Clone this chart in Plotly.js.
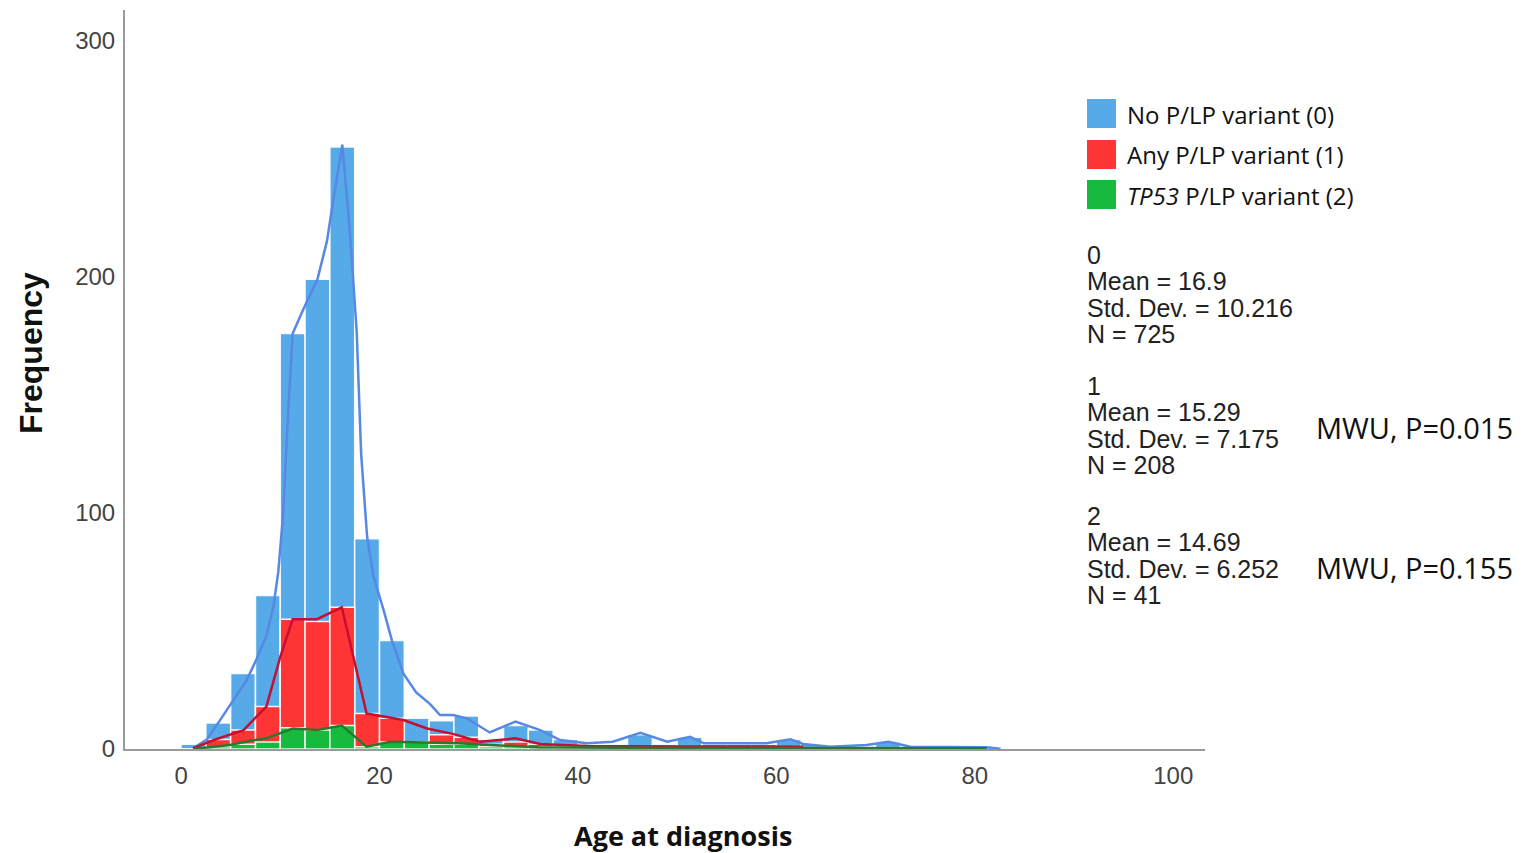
<!DOCTYPE html>
<html>
<head>
<meta charset="utf-8">
<script src="https://cdn.plot.ly/plotly-3.0.1.min.js"></script>
<style>html,body{margin:0;padding:0;background:#fff;}#chart{width:1523px;height:853px;}</style>
</head>
<body>
<div id="chart"></div>
<script>
// ---- Data ----
var binCenters = [1.25,3.75,6.25,8.75,11.25,13.75,16.25,18.75,21.25,23.75,26.25,28.75,31.25,33.75,36.25,38.75,41.25,43.75,46.25,48.75,51.25,53.75,56.25,58.75,61.25,63.75,66.25,68.75,71.25,73.75,76.25,78.75,81.25];
var noVariantBars  = [2,11,32,65,176,199,255,89,46,13,12,14,4,10,8,4,2,2,6,2,5,2,2,2,4,2,1,1,3,1,1,1,1];
var anyVariantBars = [0,4,8,18,55,54,60,15,13,3,6,5,2,3,2,1,1,1,1,1,1,1,1,1,1,0,0,0,0,0,0,0,0];
var tp53Bars       = [0,1,2,3,9,8,10,1,3,3,2,2,1,1,1,0,0,0,0,0,0,0,0,0,0,0,0,0,0,0,0,0,0];

var noVariantLineX = [1.2,2.6,3.9,5.3,6.6,7.6,8.6,9.3,9.8,10.3,10.7,11.25,12.3,13.75,14.7,15.4,16.25,17.0,17.7,18.15,18.75,19.4,20.4,21.25,22.4,23.7,25.1,26.1,27.4,28.8,31.1,33.7,36.2,38.2,40.9,43.5,46.3,49,51.3,52.7,54.7,59,61.4,62.7,65.4,69.1,71.3,73.5,81.2,82.6];
var noVariantLineY = [0.3,4,12,21,29,38,48,60,75,100,135,176,186,199,215,234,256,220,177,125,90,73,59,46,32,24,19,14.4,14.4,13,7,11.6,8,3.8,2.4,3.1,6.9,3.1,5.2,2.4,2.4,2.4,4.1,2.1,1,1.7,3.1,1,0.7,0];
var anyVariantLineX = [1.2,3.3,6.3,8.6,10,11.25,13.7,16.2,18.7,22.4,24.8,27.5,30.1,33.7,36.2,40.9,50,62.7];
var anyVariantLineY = [0.3,3.8,8,18,39,55,55,60,15,12.3,8.7,6.3,3.1,4.5,2.1,1.3,1.1,1.0];
var tp53LineX = [1.2,4.9,7,8.6,11.25,13.7,16.2,18.7,21.1,25.1,28,36,50,81.2];
var tp53LineY = [0,1.7,3.5,4.5,8.7,8,9.9,1,3.1,2.7,2.4,0.7,0.4,0.3];

var xTicks = [0,20,40,60,80,100];
var yTicks = [0,100,200,300];

var legendLabels = ['No P/LP variant (0)','Any P/LP variant (1)','<i>TP53</i> P/LP variant (2)'];
var statsBlocks = [
  ['0','Mean = 16.9','Std. Dev. = 10.216','N = 725'],
  ['1','Mean = 15.29','Std. Dev. = 7.175','N = 208'],
  ['2','Mean = 14.69','Std. Dev. = 6.252','N = 41']
];
var mwuLabels = ['MWU, P=0.015','MWU, P=0.155'];

// ---- Styles ----
var cBlue = 'rgb(86,170,231)', cRed = 'rgb(255,52,52)', cGreen = 'rgb(22,186,60)';
var lBlue = 'rgb(86,136,228)', lRed = 'rgb(196,16,52)', lGreen = 'rgb(40,120,45)';
var L = 125, R = 1205, T = 10, B = 749;
function px(x){ return (x - L) / (R - L); }
function py(y){ return (B - y) / (B - T); }

function barTrace(y, color){
  return {type:'bar', x:binCenters, y:y, width:2.5, marker:{color:color, line:{color:'rgba(255,255,255,0.9)', width:1.5}}, hoverinfo:'x+y', showlegend:false};
}
function lineTrace(x, y, color){
  return {type:'scatter', mode:'lines', x:x, y:y, line:{color:color, width:2.5}, showlegend:false, hoverinfo:'x+y'};
}
var traces = [
  barTrace(noVariantBars, cBlue),
  barTrace(anyVariantBars, cRed),
  barTrace(tp53Bars, cGreen),
  lineTrace(noVariantLineX, noVariantLineY, lBlue),
  lineTrace(anyVariantLineX, anyVariantLineY, lRed),
  lineTrace(tp53LineX, tp53LineY, lGreen)
];

var annotations = [];
var shapes = [];
var sansA = 'Liberation Sans, Arial, sans-serif';
var sansC = 'Open Sans, Noto Sans, sans-serif';

annotations.push({xref:'paper', yref:'paper', x:px(31), y:py(353), text:'<b>Frequency</b>', textangle:-90, showarrow:false, xanchor:'center', yanchor:'middle', font:{family:sansA, size:32, color:'#111'}});
annotations.push({xref:'paper', yref:'paper', x:px(683), y:py(835), text:'<b>Age at diagnosis</b>', showarrow:false, xanchor:'center', yanchor:'middle', font:{family:sansC, size:27, color:'#111'}});

var swatchColors = [cBlue, cRed, cGreen];
var swatchTop = [99, 140, 180];
for (var i = 0; i < 3; i++){
  shapes.push({type:'rect', xref:'paper', yref:'paper', x0:px(1087), x1:px(1116), y0:py(swatchTop[i]+29), y1:py(swatchTop[i]), fillcolor:swatchColors[i], line:{width:0}});
  annotations.push({xref:'paper', yref:'paper', x:px(1125), y:py(swatchTop[i]+15), text:legendLabels[i], showarrow:false, xanchor:'left', yanchor:'middle', font:{family:sansC, size:24, color:'#111'}});
}

var blockTop = [255, 386, 516];
var lineGap = 26.3;
for (var b = 0; b < 3; b++){
  for (var k = 0; k < 4; k++){
    annotations.push({xref:'paper', yref:'paper', x:px(1085), y:py(blockTop[b] + k*lineGap), text:statsBlocks[b][k], showarrow:false, xanchor:'left', yanchor:'middle', font:{family:sansA, size:25, color:'#222'}});
  }
}
var mwuY = [427, 567];
for (var m = 0; m < 2; m++){
  annotations.push({xref:'paper', yref:'paper', x:px(1314), y:py(mwuY[m]), text:mwuLabels[m], showarrow:false, xanchor:'left', yanchor:'middle', font:{family:sansC, size:29, color:'#111'}});
}

var layout = {
  width:1523, height:853,
  margin:{l:L, r:1523-R, t:T, b:853-B, pad:0},
  paper_bgcolor:'#fff', plot_bgcolor:'#fff',
  barmode:'overlay', bargap:0,
  showlegend:false,
  xaxis:{range:[-5.65,103.2], tickvals:xTicks, ticktext:xTicks.map(String), showgrid:false, zeroline:false, showline:true, linecolor:'#9a9a9a', linewidth:2, ticks:'', ticklabelstandoff:4, tickfont:{family:sansA, size:24, color:'#444'}, fixedrange:true},
  yaxis:{range:[0,313], tickvals:yTicks, ticktext:yTicks.map(String), showgrid:false, zeroline:false, showline:true, linecolor:'#9a9a9a', linewidth:2, ticks:'', ticklabelstandoff:3, tickfont:{family:sansA, size:24, color:'#444'}, fixedrange:true},
  annotations:annotations,
  shapes:shapes
};
Plotly.newPlot('chart', traces, layout, {displayModeBar:false, staticPlot:true});
</script>
</body>
</html>
